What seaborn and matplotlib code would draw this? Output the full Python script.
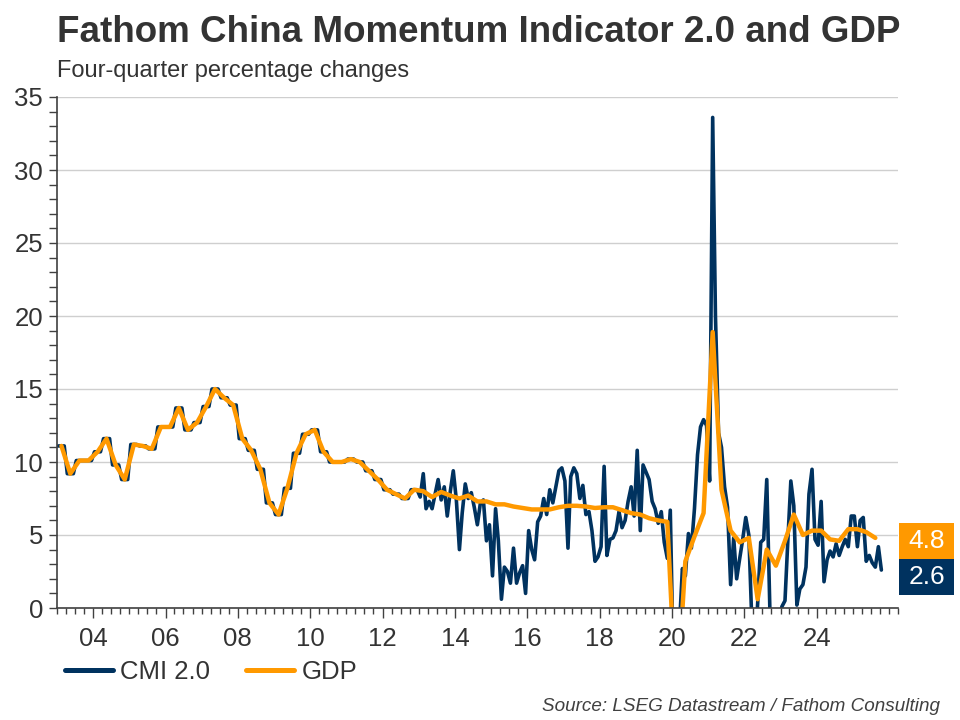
import numpy as np
import pandas as pd
import matplotlib
matplotlib.use("Agg")
import matplotlib.pyplot as plt
import matplotlib.dates as mdates
from matplotlib.patches import Rectangle
from matplotlib.ticker import FixedLocator, MultipleLocator
import seaborn as sns

# === Data (four-quarter % changes) ===
# CMI 2.0, monthly from Jan 2003 to Oct 2025
cmi = [
    11.1, 11.1, 11.1, 9.2, 9.2, 9.2, 10.1, 10.1, 10.1, 10.1, 10.1, 10.1,   # 2003
    10.7, 10.7, 10.7, 11.6, 11.6, 11.6, 9.8, 9.8, 9.8, 8.8, 8.8, 8.8,      # 2004
    11.2, 11.2, 11.2, 11.1, 11.1, 11.1, 10.9, 10.9, 10.9, 12.4, 12.4, 12.4,  # 2005
    12.4, 12.4, 12.4, 13.7, 13.7, 13.7, 12.2, 12.2, 12.2, 12.7, 12.7, 12.7,  # 2006
    13.8, 13.8, 13.8, 15.0, 15.0, 15.0, 14.4, 14.4, 14.4, 13.9, 13.9, 13.9,  # 2007
    11.6, 11.6, 11.6, 10.8, 10.8, 10.8, 9.5, 9.5, 9.5, 7.2, 7.2, 7.2,      # 2008
    6.4, 6.4, 6.4, 8.2, 8.2, 8.2, 10.6, 10.6, 10.6, 11.9, 11.9, 11.9,      # 2009
    12.2, 12.2, 12.2, 10.7, 10.7, 10.7, 10.0, 10.0, 10.0, 10.0, 10.0, 10.0,  # 2010
    10.2, 10.2, 10.2, 10.0, 10.0, 10.0, 9.4, 9.4, 9.4, 8.8, 8.8, 8.8,      # 2011
    8.1, 8.1, 8.1, 7.8, 7.8, 7.8, 7.5, 7.5, 7.5, 8.1, 8.1, 8.1,            # 2012
    7.6, 9.2, 6.8, 7.3, 6.8, 7.8, 8.8, 7.4, 8.3, 6.3, 8.0, 9.4,            # 2013
    7.4, 4.0, 6.5, 8.5, 7.5, 7.9, 6.9, 5.7, 7.2, 7.4, 4.6, 5.7,            # 2014
    2.2, 6.8, 4.6, 0.6, 2.8, 2.5, 1.7, 4.1, 1.7, 2.4, 2.9, 1.0,            # 2015
    5.3, 4.0, 3.3, 5.9, 6.3, 7.5, 6.4, 8.1, 7.2, 8.3, 9.4, 9.6,            # 2016
    8.7, 4.1, 9.0, 9.6, 9.2, 7.5, 8.4, 6.4, 6.6, 5.3, 3.2, 3.5,            # 2017
    4.2, 9.7, 3.6, 4.7, 4.8, 5.3, 6.6, 5.5, 6.0, 7.3, 8.3, 6.3,            # 2018
    10.8, 5.3, 9.8, 9.3, 8.8, 7.3, 6.8, 5.8, 6.6, 4.5, 3.4, 6.7,           # 2019
    -4.0, -12.0, -1.5, 2.7, 2.2, 5.1, 4.1, 6.8, 10.5, 12.4, 12.9, 12.5,    # 2020
    8.7, 33.6, 20.0, 12.0, 11.0, 8.3, 6.9, 1.6, 4.8, 2.0, 3.4, 4.7,        # 2021
    6.2, 5.0, -0.5, -3.0, 0.3, 4.5, 4.7, 8.8, 0.0, -3.0, -2.5, -1.0,       # 2022
    0.1, 0.5, 4.5, 8.7, 7.0, 0.2, 1.3, 1.6, 2.8, 7.8, 9.5, 4.7,            # 2023
    4.3, 7.3, 1.8, 3.3, 3.9, 3.5, 4.4, 3.6, 4.2, 4.7, 4.2, 6.3,            # 2024
    6.3, 4.2, 6.0, 6.2, 3.2, 3.6, 3.1, 2.8, 4.2, 2.6,                      # 2025
]

# GDP, quarterly from 2003 Q1 to 2025 Q3
gdp = [
    11.1, 9.2, 10.1, 10.1,   # 2003
    10.7, 11.6, 9.8, 8.8,    # 2004
    11.2, 11.1, 10.9, 12.4,  # 2005
    12.4, 13.7, 12.2, 12.7,  # 2006
    13.8, 15.0, 14.4, 13.9,  # 2007
    11.6, 10.8, 9.5, 7.2,    # 2008
    6.4, 8.2, 10.6, 11.9,    # 2009
    12.2, 10.7, 10.0, 10.0,  # 2010
    10.2, 10.0, 9.4, 8.8,    # 2011
    8.1, 7.8, 7.5, 8.1,      # 2012
    8.0, 7.6, 7.95, 7.7,     # 2013
    7.5, 7.7, 7.3, 7.3,      # 2014
    7.1, 7.1, 6.95, 6.85,    # 2015
    6.75, 6.75, 6.75, 6.9,   # 2016
    7.0, 7.0, 6.95, 6.85,    # 2017
    6.9, 6.9, 6.7, 6.5,      # 2018
    6.4, 6.15, 6.0, 5.9,     # 2019
    -6.8, 3.2, 4.9, 6.5,     # 2020
    18.9, 8.1, 5.3, 4.5,     # 2021
    4.8, 0.6, 4.0, 2.9,      # 2022
    4.6, 6.4, 5.0, 5.3,      # 2023
    5.3, 4.7, 4.6, 5.4,      # 2024
    5.4, 5.2, 4.8,           # 2025
]

tick_years = list(range(2004, 2025, 2))
tick_labels = ["04", "06", "08", "10", "12", "14", "16", "18", "20", "22", "24"]
series_names = ["CMI 2.0", "GDP"]

NAVY = "#00325f"
ORANGE = "#ff9900"
TEXT = "#333333"

cmi_df = pd.DataFrame({
    "date": pd.date_range("2003-01-01", periods=len(cmi), freq="MS") + pd.Timedelta(days=14),
    "value": cmi,
})
gdp_df = pd.DataFrame({
    "date": pd.date_range("2003-02-01", periods=len(gdp), freq="3MS") + pd.Timedelta(days=14),
    "value": gdp,
})

# === Plot ===
sns.set_theme(style="white")
plt.rcParams["font.family"] = ["Liberation Sans", "DejaVu Sans"]

fig = plt.figure(figsize=(9.6, 7.2), dpi=100)
ax = fig.add_axes([57 / 960, 112 / 720, 841 / 960, 511 / 720])

sns.lineplot(data=cmi_df, x="date", y="value", ax=ax, color=NAVY, lw=2.6,
             label=series_names[0], legend=False)
sns.lineplot(data=gdp_df, x="date", y="value", ax=ax, color=ORANGE, lw=3.2,
             label=series_names[1], legend=False)

ax.set_ylim(0, 35)
ax.set_xlim(pd.Timestamp("2003-01-01"), pd.Timestamp("2026-04-01"))
ax.set_xlabel("")
ax.set_ylabel("")

ax.yaxis.set_major_locator(MultipleLocator(5))
ax.yaxis.set_minor_locator(MultipleLocator(1))
ax.xaxis.set_major_locator(FixedLocator(mdates.date2num([pd.Timestamp(f"{y}-01-01") for y in tick_years])))
ax.set_xticklabels(tick_labels)
ax.xaxis.set_minor_locator(mdates.MonthLocator(bymonth=[1, 4, 7, 10]))

ax.grid(axis="y", which="major", color="#cfcfcf", lw=1)
ax.set_axisbelow(True)
for side in ["top", "right"]:
    ax.spines[side].set_visible(False)
for side in ["left", "bottom"]:
    ax.spines[side].set_color("#404040")
    ax.spines[side].set_linewidth(1.2)
    ax.spines[side].set_zorder(5)

ax.tick_params(axis="y", which="both", direction="out", length=6, width=1, color="#404040",
               left=True, labelsize=18.5, labelcolor=TEXT, pad=4)
ax.tick_params(axis="x", which="major", direction="out", length=7, width=1, color="#404040",
               bottom=True, labelsize=18.5, labelcolor=TEXT, pad=7)
ax.tick_params(axis="x", which="minor", direction="out", length=4, width=1, color="#404040",
               bottom=True)

# Titles
fig.text(57 / 960, 1 - 42 / 720, "Fathom China Momentum Indicator 2.0 and GDP",
         fontsize=26.5, fontweight="bold", color=TEXT, va="baseline", ha="left")
fig.text(57 / 960, 1 - 77 / 720, "Four-quarter percentage changes",
         fontsize=17, color=TEXT, va="baseline", ha="left")

# Latest-value tags
for val, col, top in [(gdp[-1], ORANGE, 523), (cmi[-1], NAVY, 559)]:
    fig.patches.append(Rectangle((899 / 960, 1 - (top + 36) / 720), 55 / 960, 36 / 720,
                                 transform=fig.transFigure, facecolor=col, edgecolor="none"))
    fig.text((899 + 27.5) / 960, 1 - (top + 18) / 720, f"{val:.1f}", color="white",
             fontsize=19, ha="center", va="center")

# Legend
handles = ax.get_lines()[:2]
leg = fig.legend(handles, series_names, loc="center left", bbox_to_anchor=(65 / 960, 1 - 672 / 720),
                 ncol=2, frameon=False, fontsize=18.5, handlelength=1.85, handletextpad=0.3,
                 columnspacing=1.4, labelcolor=TEXT, borderaxespad=0, borderpad=0)
for line in leg.get_lines():
    line.set_linewidth(3.6)

fig.text(940 / 960, 1 - 711 / 720, "Source: LSEG Datastream / Fathom Consulting",
         fontsize=13.6, style="italic", color="#404040", ha="right", va="baseline")

fig.savefig("out.png", dpi=100)
